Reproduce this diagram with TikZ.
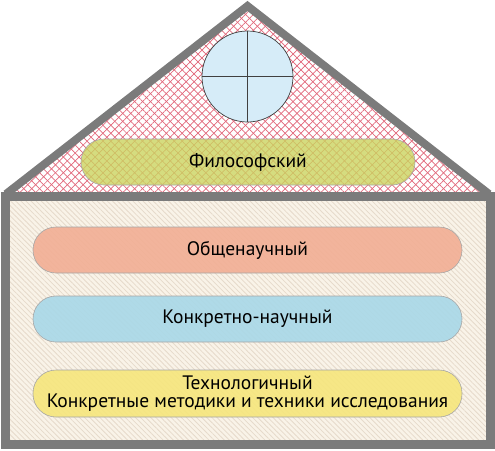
\documentclass[tikz,border=0pt]{standalone}
\usepackage{fontspec}
\setmainfont{PT Sans}
\usetikzlibrary{patterns.meta}
\definecolor{wallgray}{HTML}{7B7B7B}
\definecolor{wallbg}{HTML}{F9F3E8}
\definecolor{wallline}{HTML}{E6DACB}
\definecolor{roofred}{HTML}{E2677A}
\definecolor{glass}{HTML}{D6ECF8}
\definecolor{philocol}{HTML}{CBD460}
\definecolor{generalcol}{HTML}{F2AE94}
\definecolor{concretecol}{HTML}{A8D8E8}
\definecolor{technocol}{HTML}{F6E67C}
\begin{document}
\begin{tikzpicture}[x=1pt, y=-1pt,
  level/.style={rectangle, rounded corners=23pt, minimum width=429pt,
    minimum height=46pt, draw=black!35, line width=0.6pt, align=center,
    font=\fontsize{19.5}{18}\selectfont, inner sep=0pt},
  wall/.style={draw=wallgray, line width=9pt, line join=miter}]
\useasboundingbox (0,0) rectangle (495,450);
% house body
\fill[wallbg] (5,196) rectangle (490,444);
\fill[pattern={Lines[angle=-45, distance=3.6pt, line width=0.8pt]},
  pattern color=wallline] (5,196) rectangle (490,444);
% roof
\coordinate (roofL) at (6,194);
\coordinate (apex) at (247.5,6);
\coordinate (roofR) at (489,194);
\fill[white] (roofL) -- (apex) -- (roofR) -- cycle;
\fill[pattern={Lines[angle=45, distance=5.6pt, line width=0.7pt]},
  pattern color=roofred] (roofL) -- (apex) -- (roofR) -- cycle;
\fill[pattern={Lines[angle=-45, distance=5.6pt, line width=0.7pt]},
  pattern color=roofred] (roofL) -- (apex) -- (roofR) -- cycle;
\draw[wall, line width=8pt] (roofL) -- (apex) -- (roofR);
\draw[wall] (5,196) rectangle (490,444);
% window
\node[circle, draw=black!75, line width=0.7pt, fill=glass,
  minimum size=91pt, inner sep=0pt] (window) at (247.5,76.5) {};
\draw[black!75, line width=0.7pt] (window.north) -- (window.south);
\draw[black!75, line width=0.7pt] (window.west) -- (window.east);
% levels
\node[level, minimum width=334pt, fill=philocol, fill opacity=0.8,
  text opacity=1] (philo) at (248,162) {Философский};
\node[level, fill=generalcol, fill opacity=0.9, text opacity=1]
  (general) at (247.5,250) {Общенаучный};
\node[level, fill=concretecol, fill opacity=0.9, text opacity=1]
  (concrete) at (247.5,319) {Конкретно-научный};
\node[level, minimum height=47pt, fill=technocol, fill opacity=0.9,
  text opacity=1] (techno) at (247.5,393.5)
  {Технологичный\\Конкретные методики и техники исследования};
\end{tikzpicture}
\end{document}
